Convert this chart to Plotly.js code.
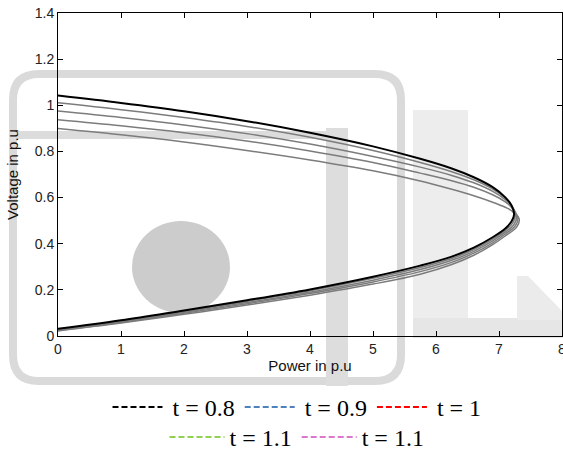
<!DOCTYPE html>
<html>
<head>
<meta charset="utf-8">
<script src="https://cdn.plot.ly/plotly-3.0.1.min.js"></script>
<style>html,body{margin:0;padding:0;background:#fff;}#chart{width:563px;height:450px;}</style>
</head>
<body>
<div id="chart"></div>
<script>
// ---- data (P in p.u, V in p.u) ----
const legendNames = ["t = 0.8", "t = 0.9", "t = 1", "t = 1.1", "t = 1.1"];
const legendColors = ["#000000", "#4f81bd", "#ff0000", "#92d050", "#dd77cc"];

// each curve: upper branch from P = 0 to the nose, then lower branch back to P = 0
const p08 = [0, 1, 2, 3.05, 4, 5, 5.75, 6.25, 6.6, 6.9, 7.1, 7.2, 7.24, 7.2, 7.1, 6.9, 6.6, 6.25, 5.75, 5, 4, 3, 2, 1, 0];
const v08 = [1.042, 1.010, 0.974, 0.929, 0.881, 0.822, 0.768, 0.726, 0.688, 0.645, 0.601, 0.565, 0.528, 0.497, 0.466, 0.428, 0.383, 0.344, 0.305, 0.257, 0.202, 0.155, 0.111, 0.068, 0.031];

const p09 = [0, 1, 2, 3.05, 4, 5, 5.75, 6.25, 6.6, 6.9, 7.1, 7.2, 7.26, 7.22, 7.1, 6.9, 6.6, 6.25, 5.75, 5, 4, 3, 2, 1, 0];
const v09 = [1.011, 0.981, 0.947, 0.906, 0.861, 0.804, 0.752, 0.712, 0.677, 0.637, 0.598, 0.567, 0.523, 0.490, 0.458, 0.420, 0.375, 0.336, 0.297, 0.250, 0.196, 0.150, 0.107, 0.065, 0.028];

const p10 = [0, 1, 2, 3.05, 4, 5, 5.75, 6.25, 6.6, 6.9, 7.1, 7.2, 7.28, 7.24, 7.1, 6.9, 6.6, 6.25, 5.75, 5, 4, 3, 2, 1, 0];
const v10 = [0.975, 0.947, 0.915, 0.875, 0.832, 0.778, 0.732, 0.696, 0.664, 0.627, 0.591, 0.563, 0.518, 0.484, 0.450, 0.412, 0.367, 0.328, 0.288, 0.242, 0.190, 0.145, 0.103, 0.062, 0.026];

const p11 = [0, 1, 2, 3.05, 4, 5, 5.75, 6.25, 6.6, 6.9, 7.1, 7.2, 7.30, 7.26, 7.1, 6.9, 6.6, 6.25, 5.75, 5, 4, 3, 2, 1, 0];
const v11 = [0.937, 0.911, 0.881, 0.843, 0.802, 0.752, 0.706, 0.673, 0.645, 0.612, 0.581, 0.557, 0.513, 0.478, 0.442, 0.404, 0.359, 0.319, 0.279, 0.234, 0.184, 0.140, 0.099, 0.059, 0.024];

const p12 = [0, 1, 2, 3.05, 4, 5, 5.75, 6.25, 6.6, 6.9, 7.1, 7.2, 7.32, 7.28, 7.1, 6.9, 6.6, 6.25, 5.75, 5, 4, 3, 2, 1, 0];
const v12 = [0.899, 0.872, 0.841, 0.802, 0.763, 0.716, 0.672, 0.636, 0.608, 0.580, 0.558, 0.543, 0.508, 0.472, 0.434, 0.396, 0.350, 0.310, 0.268, 0.225, 0.177, 0.134, 0.094, 0.056, 0.022];

const xTicks = [0, 1, 2, 3, 4, 5, 6, 7, 8];
const yTicks = [0, 0.2, 0.4, 0.6, 0.8, 1, 1.2, 1.4];
const yTickText = ["0", "0.2", "0.4", "0.6", "0.8", "1", "1.2", "1.4"];

// ---- layout helpers (pixel -> paper) ----
const W = 563, H = 450, ML = 58, MR = 1, MT = 13, MB = 114;
const PW = W - ML - MR, PH = H - MT - MB;
const fx = x => (x - ML) / PW;
const fy = y => (H - MB - y) / PH;

function rect(x0, y0, x1, y1, color) {
  return {type: 'rect', xref: 'paper', yref: 'paper', layer: 'below',
    x0: fx(x0), x1: fx(x1), y0: fy(y1), y1: fy(y0),
    fillcolor: color, line: {width: 0}};
}
function roundRectPath(x0, y0, x1, y1, r) {
  const P = (x, y) => fx(x) + ',' + fy(y);
  return 'M' + P(x0 + r, y0) + ' L' + P(x1 - r, y0) + ' Q' + P(x1, y0) + ' ' + P(x1, y0 + r) +
    ' L' + P(x1, y1 - r) + ' Q' + P(x1, y1) + ' ' + P(x1 - r, y1) +
    ' L' + P(x0 + r, y1) + ' Q' + P(x0, y1) + ' ' + P(x0, y1 - r) +
    ' L' + P(x0, y0 + r) + ' Q' + P(x0, y0) + ' ' + P(x0 + r, y0) + ' Z';
}

// faint background watermark of the source image
const shapes = [
  rect(413, 110, 468, 337, '#ededed'),
  rect(413, 318, 563, 338, '#e6e6e6'),
  {type: 'path', xref: 'paper', yref: 'paper', layer: 'below',
   path: 'M' + fx(517) + ',' + fy(320) + ' L' + fx(517) + ',' + fy(276) + ' L' + fx(528) + ',' + fy(276) + ' L' + fx(563) + ',' + fy(312) + ' L' + fx(563) + ',' + fy(320) + ' Z',
   fillcolor: '#ebebeb', line: {width: 0}},
  {type: 'path', xref: 'paper', yref: 'paper', layer: 'below',
   path: roundRectPath(13, 74, 401, 381, 26), fillcolor: 'rgba(0,0,0,0)',
   line: {color: '#dadada', width: 8}},
  rect(9, 131, 330, 139, '#dcdcdc'),
  rect(326, 128, 348, 386, '#dddddd'),
  {type: 'circle', xref: 'paper', yref: 'paper', layer: 'below',
   x0: fx(132), x1: fx(230), y0: fy(313), y1: fy(221),
   fillcolor: '#cccccc', line: {width: 0}}
];

// ---- traces ----
const curveStyle = (c, w) => ({color: c, width: w, shape: 'spline', smoothing: 1});
const traces = [
  {x: p12, y: v12, mode: 'lines', line: curveStyle('#7c7c7c', 1.5), showlegend: false, hoverinfo: 'skip'},
  {x: p11, y: v11, mode: 'lines', line: curveStyle('#7c7c7c', 1.5), showlegend: false, hoverinfo: 'skip'},
  {x: p10, y: v10, mode: 'lines', line: curveStyle('#7c7c7c', 1.5), showlegend: false, hoverinfo: 'skip'},
  {x: p09, y: v09, mode: 'lines', line: curveStyle('#7c7c7c', 1.5), showlegend: false, hoverinfo: 'skip'},
  {x: p08, y: v08, mode: 'lines', line: curveStyle('#000000', 2), showlegend: false, hoverinfo: 'skip'}
];
// legend entries (dashed coloured keys as in the reference legend)
legendNames.forEach((n, i) => {
  traces.push({x: [-10, -9], y: [-10, -9], mode: 'lines', name: n,
    line: {color: legendColors[i], width: 2, dash: '6px,3px'},
    legend: i < 3 ? 'legend' : 'legend2', hoverinfo: 'skip'});
});

const axisCommon = {
  showline: true, linecolor: '#000', linewidth: 1, mirror: 'ticks',
  ticks: 'inside', ticklen: 5, tickcolor: '#000', showgrid: false, zeroline: false,
  tickfont: {family: 'Liberation Sans, Arial, sans-serif', size: 14, color: '#222'},
  ticklabeloverflow: 'allow', automargin: false, fixedrange: true
};
const legendCommon = {
  orientation: 'h', x: fx(297), xanchor: 'center', yanchor: 'top',
  font: {family: 'Liberation Serif, Times New Roman, serif', size: 24, color: '#000'},
  bgcolor: 'rgba(0,0,0,0)', itemwidth: 55, tracegroupgap: 0
};

const layout = {
  width: W, height: H,
  margin: {l: ML, r: MR, t: MT, b: MB, autoexpand: false},
  paper_bgcolor: '#ffffff', plot_bgcolor: 'rgba(0,0,0,0)',
  xaxis: Object.assign({}, axisCommon, {
    range: [0, 8], tickvals: xTicks, ticktext: xTicks.map(String),
    title: {text: 'Power in p.u', font: {family: 'Liberation Sans, Arial, sans-serif', size: 15, color: '#111'}, standoff: 4}
  }),
  yaxis: Object.assign({}, axisCommon, {
    range: [0, 1.4], tickvals: yTicks, ticktext: yTickText,
    title: {text: 'Voltage in p.u', font: {family: 'Liberation Sans, Arial, sans-serif', size: 15, color: '#111'}, standoff: 12}
  }),
  showlegend: true,
  legend: Object.assign({}, legendCommon, {y: fy(385)}),
  legend2: Object.assign({}, legendCommon, {y: fy(415)}),
  shapes: shapes
};

Plotly.newPlot('chart', traces, layout, {staticPlot: true, displayModeBar: false}).then(gd => {
  gd.querySelectorAll('.legend .legendlines path.js-line').forEach(p => p.setAttribute('d', 'M5,0h50'));
});
</script>
</body>
</html>
